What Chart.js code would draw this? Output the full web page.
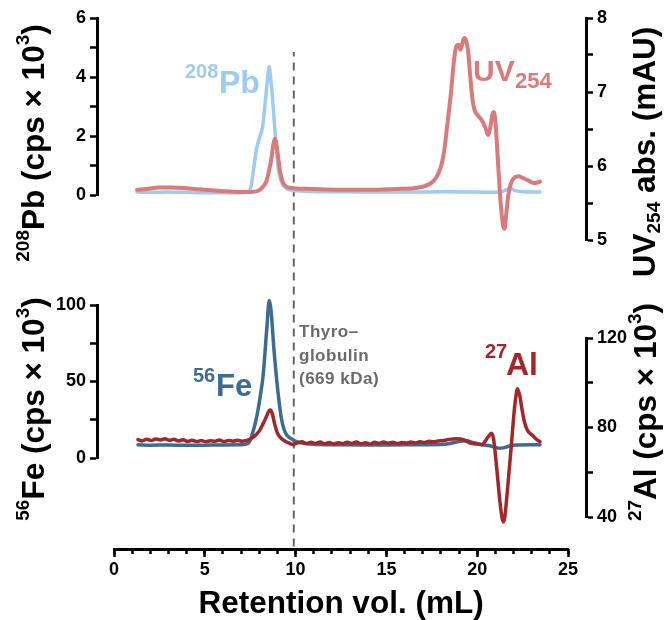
<!DOCTYPE html>
<html>
<head>
<meta charset="utf-8">
<script src="https://cdn.jsdelivr.net/npm/chart.js@4.4.1/dist/chart.umd.min.js"></script>
<style>
  html, body { margin: 0; padding: 0; background: #fff; }
  #stage { position: relative; width: 671px; height: 620px; overflow: hidden;
           font-family: "Liberation Sans", Arial, sans-serif; font-weight: bold; }
  #stage canvas { position: absolute; left: 0; top: 0; }
  .lbl { position: absolute; white-space: nowrap; line-height: 1; }
  .ttl { position: absolute; white-space: nowrap; line-height: 1; font-size: 31.5px; color: #000;
         transform: translate(-50%, -50%) rotate(-90deg); }
  .ttl sup { font-size: 19px; vertical-align: 15px; line-height: 0; }
  .ttl sub { font-size: 19px; vertical-align: -5px; line-height: 0; }
  .note { position: absolute; color: #6a6a6a; font-size: 17px; line-height: 23.5px; letter-spacing: 0.5px; white-space: nowrap; }
</style>
</head>
<body>
<div id="stage">
  <canvas id="cAxis" width="671" height="620"></canvas>
  <canvas id="cMinor" width="671" height="620"></canvas>
  <canvas id="cPb" width="671" height="620"></canvas>
  <canvas id="cUV" width="671" height="620"></canvas>
  <canvas id="cFe" width="671" height="620"></canvas>
  <canvas id="cAl" width="671" height="620"></canvas>

  <div class="ttl" style="left:34px; top:143px;"><sup>208</sup>Pb (cps × 10<sup>3</sup>)</div>
  <div class="ttl" style="left:34px; top:409px;"><sup>56</sup>Fe (cps × 10<sup>3</sup>)</div>
  <div class="ttl" style="left:645px; top:152px;">UV<sub>254</sub> abs. (mAU)</div>
  <div class="ttl" style="left:646px; top:412px;"><sup>27</sup>Al (cps × 10<sup>3</sup>)</div>

  <div class="note" style="left:299px; top:320px;">Thyro–<br>globulin<br>(669 kDa)</div>
</div>

<script>
// ---- Data (retention volume in mL) ----
const pbVol = [1.27, 2.0, 3.0, 4.0, 5.0, 6.0, 7.0, 7.40, 7.55, 7.70, 7.86, 8.04, 8.18, 8.32, 8.44, 8.55,
               8.62, 8.70, 8.80, 8.90, 9.00, 9.10, 9.25, 9.50, 9.80, 10.5, 12.0, 14.0, 16.0, 18.0, 20.0,
               21.0, 21.4, 21.8, 22.1, 22.5, 23.46];
const pbCps = [0.10, 0.09, 0.10, 0.09, 0.08, 0.08, 0.08, 0.12, 0.30, 0.95, 1.60, 2.00, 2.30, 3.10, 3.85, 4.35,
               4.00, 3.50, 2.70, 1.90, 1.15, 0.70, 0.40, 0.22, 0.16, 0.13, 0.11, 0.10, 0.10, 0.11, 0.10,
               0.09, 0.12, 0.22, 0.15, 0.11, 0.10];

const uvVol = [1.27, 1.8, 2.5, 3.2, 4.0, 5.0, 6.0, 6.8, 7.5, 7.9, 8.2, 8.4, 8.55, 8.68, 8.78, 8.87, 8.95,
               9.05, 9.15, 9.3, 9.5, 9.9, 11.0, 12.5, 14.0, 15.5, 16.5, 17.0, 17.4, 17.7, 17.95, 18.15,
               18.35, 18.55, 18.72, 18.85, 18.97, 19.08, 19.18, 19.28, 19.38, 19.5, 19.62, 19.75, 19.88,
               20.05, 20.25, 20.45, 20.6, 20.72, 20.82, 20.92, 21.02, 21.12, 21.22, 21.32, 21.42, 21.5,
               21.6, 21.72, 21.85, 22.0, 22.25, 22.5, 22.75, 23.0, 23.2, 23.46];
const uvAbs = [5.68, 5.69, 5.71, 5.71, 5.70, 5.68, 5.66, 5.65, 5.65, 5.66, 5.72, 5.80, 5.95, 6.12, 6.30, 6.37, 6.28,
               6.10, 5.92, 5.78, 5.72, 5.70, 5.69, 5.68, 5.68, 5.69, 5.70, 5.72, 5.76, 5.83, 5.95, 6.15,
               6.55, 6.98, 7.42, 7.62, 7.64, 7.57, 7.65, 7.73, 7.70, 7.55, 7.20, 6.88, 6.74,
               6.68, 6.62, 6.52, 6.42, 6.52, 6.68, 6.73, 6.55, 6.15, 5.75, 5.42, 5.20, 5.15,
               5.35, 5.62, 5.76, 5.83, 5.86, 5.84, 5.81, 5.78, 5.77, 5.79];

const feVol = [1.32, 2.0, 3.0, 4.0, 5.0, 6.0, 7.0, 7.40, 7.60, 7.86, 8.05, 8.22, 8.41, 8.55, 8.68, 8.80, 8.96,
               9.10, 9.23, 9.37, 9.51, 9.70, 9.87, 10.1, 10.42, 11.0, 12.0, 14.0, 16.0, 18.0, 18.5, 19.0,
               19.4, 19.8, 20.3, 20.7, 21.0, 21.2, 21.5, 21.8, 22.2, 23.0, 23.46];
const feCps = [8.6, 8.4, 8.5, 8.3, 8.4, 8.5, 8.6, 9.6, 15.0, 27.0, 40.0, 55.0, 84.0, 103.0, 92.0, 72.0, 51.0,
               36.0, 25.0, 18.5, 15.0, 13.0, 11.8, 10.5, 9.6, 9.0, 8.7, 8.5, 8.6, 8.8, 9.5, 10.8,
               11.3, 10.0, 8.7, 8.0, 7.0, 6.3, 6.8, 7.9, 8.5, 8.6, 8.6];

const alVol = [1.32, 1.55, 1.8, 2.05, 2.3, 2.55, 2.8, 3.05, 3.3, 3.55, 3.8, 4.05, 4.3, 4.55, 4.8, 5.05,
               5.3, 5.55, 5.8, 6.05, 6.3, 6.55, 6.8, 7.05, 7.3, 7.5, 7.75, 8.0, 8.2, 8.4, 8.55, 8.62,
               8.72, 8.85, 9.0, 9.2, 9.4, 9.6, 9.85, 10.1, 10.35, 10.6, 10.85, 11.1, 11.35, 11.6, 11.85,
               12.1, 12.35, 12.6, 12.85, 13.1, 13.35, 13.6, 13.85, 14.1, 14.35, 14.6, 14.85, 15.1, 15.35,
               15.6, 15.85, 16.1, 16.35, 16.6, 16.85, 17.1, 17.35, 17.6, 17.85, 18.1, 18.35, 18.6, 18.85,
               19.1, 19.3, 19.5, 19.75, 20.0, 20.25, 20.45, 20.62, 20.78, 20.9, 21.0, 21.12, 21.25, 21.36,
               21.44, 21.52, 21.62, 21.75, 21.88, 22.0, 22.1, 22.22, 22.35, 22.47, 22.6, 22.75, 22.9,
               23.05, 23.2, 23.35, 23.46];
const alCps = [74.6, 74.0, 74.8, 74.2, 74.9, 74.4, 75.0, 74.3, 74.7, 74.0, 74.5, 73.8, 74.3, 73.7, 74.2, 73.6,
               74.1, 73.8, 74.4, 73.7, 74.2, 73.9, 74.3, 73.9, 74.2, 74.8, 76.2, 78.5, 81.5, 85.0, 87.6, 87.8,
               86.0, 81.5, 77.5, 75.2, 74.0, 73.2, 72.4, 73.1, 73.6, 72.8, 73.4, 72.9, 73.5, 72.7, 73.3,
               72.6, 73.2, 72.8, 73.4, 72.9, 73.5, 72.7, 73.2, 72.6, 73.4, 72.9, 73.5, 73.0, 73.4,
               72.8, 73.3, 73.0, 73.5, 73.1, 73.6, 73.3, 73.8, 73.6, 74.0, 74.1, 74.5, 74.8, 75.0,
               74.9, 74.4, 73.5, 72.8, 72.6, 72.3, 74.0, 76.0, 77.4, 75.0, 68.0, 58.0, 47.0, 40.0,
               37.8, 40.0, 48.0, 60.0, 72.0, 84.0, 92.0, 97.3, 94.0, 88.0, 82.5, 79.0, 77.4,
               76.5, 75.2, 74.2, 73.7];

// Tick labels
const xTickLabels = [0, 5, 10, 15, 20, 25];
const pbTickLabels = [0, 2, 4, 6];
const uvTickLabels = [5, 6, 7, 8];
const feTickLabels = [0, 50, 100];
const alTickLabels = [40, 80, 120];

// Elution volume of the thyroglobulin marker
const markerVol = 9.9;

// ---- Layout ----
const W = 671, H = 620;
const FONT = '"Liberation Sans", Arial, sans-serif';
const X_LEFT = 114, X_RIGHT = 568;   // pixel columns of 0 mL and 25 mL
const AXIS_L = 97, AXIS_R = 586;     // detached y-axis lines
const AXIS_Y = 549;                  // x-axis line row
const mlPerPx = 25 / (X_RIGHT - X_LEFT);
const xMinWide = -(X_LEFT - AXIS_L) * mlPerPx;
const xMaxWide = 25 + (AXIS_R - X_RIGHT) * mlPerPx;

const tickFont = { family: FONT, size: 18, weight: 'bold' };
const noPlugins = { legend: { display: false }, tooltip: { enabled: false } };

function toPoints(xs, ys) { return xs.map((x, i) => ({ x, y: ys[i] })); }

function panel(id, side, top, bottom, yMin, yMax, step, labels, xs, ys, color, width) {
  const left = side === 'left';
  return new Chart(document.getElementById(id), {
    type: 'line',
    data: { datasets: [{
      data: toPoints(xs, ys), borderColor: color, borderWidth: width, pointRadius: 0,
      cubicInterpolationMode: 'monotone', borderJoinStyle: 'round', borderCapStyle: 'round', clip: false
    }] },
    options: {
      responsive: false, animation: false, events: [],
      layout: { padding: { left: left ? 0 : AXIS_L, right: left ? W - AXIS_R : 0, top: top, bottom: H - bottom } },
      plugins: noPlugins,
      scales: {
        x: { type: 'linear', display: false, min: xMinWide, max: xMaxWide },
        y: {
          type: 'linear', position: side, min: yMin, max: yMax,
          afterFit: s => { s.width = left ? AXIS_L : W - AXIS_R; },
          border: { display: true, color: '#000', width: 3 },
          grid: { drawOnChartArea: false, drawTicks: true, tickLength: 7, tickWidth: 2.5, tickColor: '#000' },
          ticks: { stepSize: step, autoSkip: false, color: '#000', font: tickFont, padding: 4,
                   callback: v => labels.includes(Math.round(v * 1000) / 1000) ? String(v) : '' }
        }
      }
    }
  });
}

// x axis with major ticks, title and the marker line
new Chart(document.getElementById('cAxis'), {
  type: 'line',
  data: { datasets: [{
    data: [{ x: markerVol, y: 0.005 }, { x: markerVol, y: 1 }],
    borderColor: '#666666', borderWidth: 2, borderDash: [8, 6], pointRadius: 0
  }] },
  options: {
    responsive: false, animation: false, events: [],
    layout: { padding: { left: X_LEFT, right: W - X_RIGHT, top: 52, bottom: 0 } },
    plugins: noPlugins,
    scales: {
      x: {
        type: 'linear', position: 'bottom', min: 0, max: 25,
        afterFit: s => { s.height = H - AXIS_Y; },
        border: { display: true, color: '#000', width: 3 },
        grid: { drawOnChartArea: false, tickLength: 8, tickWidth: 2.5, tickColor: '#000' },
        ticks: { stepSize: 5, autoSkip: false, maxRotation: 0, color: '#000', font: tickFont, padding: 2,
                 callback: v => xTickLabels.includes(v) ? String(v) : '' },
        title: { display: true, text: 'Retention vol. (mL)', color: '#000',
                 font: { family: FONT, size: 31.5, weight: 'bold', lineHeight: 1 }, padding: { top: 0, bottom: 0 } }
      },
      y: { display: false, min: 0, max: 1 }
    }
  }
});

// minor ticks every 1 mL
new Chart(document.getElementById('cMinor'), {
  type: 'line',
  data: { datasets: [] },
  options: {
    responsive: false, animation: false, events: [],
    layout: { padding: { left: X_LEFT, right: W - X_RIGHT, top: 52, bottom: 0 } },
    plugins: noPlugins,
    scales: {
      x: {
        type: 'linear', position: 'bottom', min: 0, max: 25,
        afterFit: s => { s.height = H - AXIS_Y; },
        border: { display: false },
        grid: { drawOnChartArea: false, tickLength: 5, tickWidth: 2.5, tickColor: '#000' },
        ticks: { stepSize: 1, autoSkip: false, display: false }
      },
      y: { display: false, min: 0, max: 1 }
    }
  }
});

const PB_COLOR = '#9ecbf2', UV_COLOR = '#da7b7b', FE_COLOR = '#3d6c93', AL_COLOR = '#a3262b';

panel('cPb', 'left', 18, 195, 0, 6, 1, pbTickLabels, pbVol, pbCps, PB_COLOR, 3.5);
panel('cUV', 'right', 18, 240, 5, 8, 0.5, uvTickLabels, uvVol, uvAbs, UV_COLOR, 4);
panel('cFe', 'left', 305, 458, 0, 100, 25, feTickLabels, feVol, feCps, FE_COLOR, 3.5);
panel('cAl', 'right', 338, 517, 40, 120, 20, alTickLabels, alVol, alCps, AL_COLOR, 3.5);

// In-plot trace labels, placed by their baselines
const stage = document.getElementById('stage');
function label(text, size, x, baseline, color) {
  const el = document.createElement('div');
  el.className = 'lbl';
  el.textContent = text;
  el.style.fontSize = size + 'px';
  el.style.color = color;
  el.style.left = x + 'px';
  el.style.top = (baseline - 0.8465 * size) + 'px';
  stage.appendChild(el);
}
label('208', 20, 185, 78, PB_COLOR);
label('Pb', 32, 219, 93.3, PB_COLOR);
label('UV', 30, 473, 81.7, UV_COLOR);
label('254', 22, 515, 88.3, UV_COLOR);
label('56', 20, 193, 381.7, FE_COLOR);
label('Fe', 31, 216, 396.7, FE_COLOR);
label('27', 20, 485, 358.3, AL_COLOR);
label('Al', 32, 506, 375, AL_COLOR);
</script>
</body>
</html>
